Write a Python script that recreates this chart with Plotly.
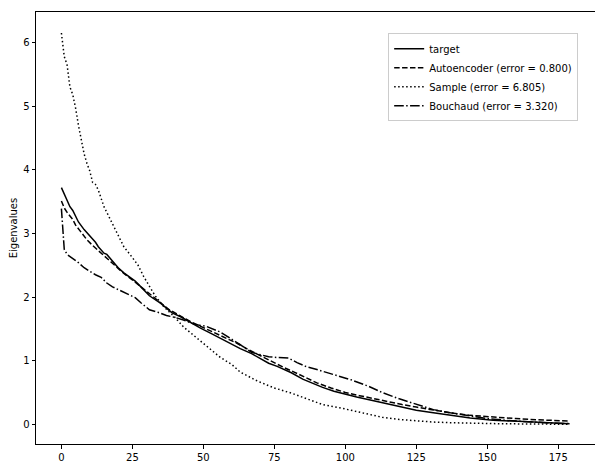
import plotly.graph_objects as go

# ---- data ----
target_x = [0, 1, 2, 3, 4, 5, 6, 8, 10, 12, 13, 15, 16, 18, 20, 22, 24, 26, 28, 31, 35, 39, 42, 46, 49,
            53, 56, 60, 63, 67, 70, 73, 76, 81, 85, 88, 92, 96, 100, 104, 108, 113, 119, 125, 131, 137,
            144, 152, 160, 168, 175, 179]
target_y = [3.72, 3.62, 3.50, 3.42, 3.36, 3.27, 3.18, 3.06, 2.96, 2.86, 2.79, 2.69, 2.67, 2.57, 2.46, 2.38,
            2.31, 2.25, 2.16, 2.02, 1.90, 1.75, 1.69, 1.58, 1.51, 1.42, 1.35, 1.26, 1.19, 1.11, 1.04, 0.96,
            0.91, 0.81, 0.71, 0.65, 0.58, 0.52, 0.47, 0.43, 0.39, 0.34, 0.28, 0.22, 0.18, 0.14, 0.10, 0.065,
            0.045, 0.027, 0.015, 0.008]

auto_x = [0, 1, 2, 4, 5, 7, 9, 11, 13, 15, 18, 20, 22, 25, 28, 30, 34, 38, 42, 46, 50, 54, 58, 62, 66,
          70, 74, 78, 82, 86, 90, 95, 100, 105, 110, 115, 120, 125, 131, 137, 144, 152, 160, 168, 175, 179]
auto_y = [3.51, 3.40, 3.33, 3.22, 3.13, 3.01, 2.90, 2.81, 2.73, 2.65, 2.52, 2.44, 2.37, 2.27, 2.16, 2.09,
          1.95, 1.80, 1.70, 1.60, 1.52, 1.44, 1.36, 1.27, 1.17, 1.08, 0.98, 0.90, 0.82, 0.73, 0.65, 0.57,
          0.50, 0.45, 0.40, 0.35, 0.31, 0.27, 0.22, 0.18, 0.14, 0.11, 0.09, 0.07, 0.055, 0.05]

sample_x = [0, 1, 2, 3, 4, 5, 6, 7, 8, 9, 10, 11, 12, 13, 15, 17, 20, 22, 25, 27, 29, 31, 33, 36, 40,
            43, 47, 51, 56, 60, 63, 69, 75, 81, 87, 92, 98, 103, 108, 113, 119, 125, 131, 137, 144, 155,
            167, 179]
sample_y = [6.15, 5.78, 5.65, 5.30, 5.18, 4.97, 4.70, 4.47, 4.25, 4.10, 3.98, 3.80, 3.77, 3.68, 3.42, 3.24,
            2.98, 2.79, 2.62, 2.50, 2.32, 2.18, 2.02, 1.85, 1.68, 1.53, 1.38, 1.23, 1.05, 0.94, 0.82, 0.68,
            0.57, 0.49, 0.39, 0.31, 0.26, 0.21, 0.15, 0.11, 0.075, 0.05, 0.035, 0.025, 0.015, 0.008, 0.004,
            0.0]

bouch_x = [0, 1, 2, 4, 6, 8, 10, 12, 14, 16, 18, 21, 24, 26, 28, 31, 34, 37, 40, 43, 47, 51, 56, 60, 63,
           67, 70, 73, 76, 80, 83, 86, 90, 93, 98, 102, 108, 113, 119, 125, 131, 137, 144, 150, 157, 165,
           172, 179]
bouch_y = [3.39, 2.75, 2.67, 2.61, 2.54, 2.46, 2.40, 2.35, 2.31, 2.22, 2.16, 2.10, 2.03, 1.99, 1.91, 1.80,
           1.76, 1.71, 1.68, 1.64, 1.57, 1.54, 1.45, 1.34, 1.25, 1.13, 1.09, 1.06, 1.05, 1.04, 0.97, 0.91,
           0.86, 0.82, 0.75, 0.70, 0.60, 0.50, 0.40, 0.31, 0.23, 0.18, 0.13, 0.09, 0.06, 0.035, 0.02, 0.01]

series_names = ["target", "Autoencoder (error = 0.800)", "Sample (error = 6.805)",
                "Bouchaud (error = 3.320)"]
x_ticks = [0, 25, 50, 75, 100, 125, 150, 175]
y_ticks = [0, 1, 2, 3, 4, 5, 6]

# ---- styling ----
dashes = ["solid", "5.5px,2.4px", "1.5px,2.5px", "9.6px,2.4px,1.5px,2.4px"]
xs = [target_x, auto_x, sample_x, bouch_x]
ys = [target_y, auto_y, sample_y, bouch_y]

fig = go.Figure()
for name, x, y, d in zip(series_names, xs, ys, dashes):
    fig.add_trace(go.Scatter(x=x, y=y, mode="lines", name=name,
                             line=dict(color="black", width=1.5, dash=d)))

axis_common = dict(showline=True, linecolor="black", linewidth=1, mirror=True,
                   showgrid=False, zeroline=False, ticks="outside", ticklen=3.5,
                   tickwidth=0.8, tickcolor="black", automargin=False,
                   tickfont=dict(size=10, color="black"))

# page body has an 8px default margin: figure sized to fit the 603x469 window
fig.update_layout(
    width=595, height=461,
    margin=dict(l=28, r=8, t=4, b=25),
    paper_bgcolor="white", plot_bgcolor="white",
    font=dict(family="DejaVu Sans", size=10, color="black"),
    xaxis=dict(range=[-8.95, 187.95], tickvals=x_ticks, **axis_common),
    yaxis=dict(range=[-0.31, 6.48], tickvals=y_ticks,
               title=dict(text="Eigenvalues", standoff=4, font=dict(size=10)), **axis_common),
    legend=dict(x=0.63, y=0.951, xanchor="left", yanchor="top", bgcolor="white",
                bordercolor="#cccccc", borderwidth=1, font=dict(size=10)),
    showlegend=True,
)

fig.write_html("out.html")
